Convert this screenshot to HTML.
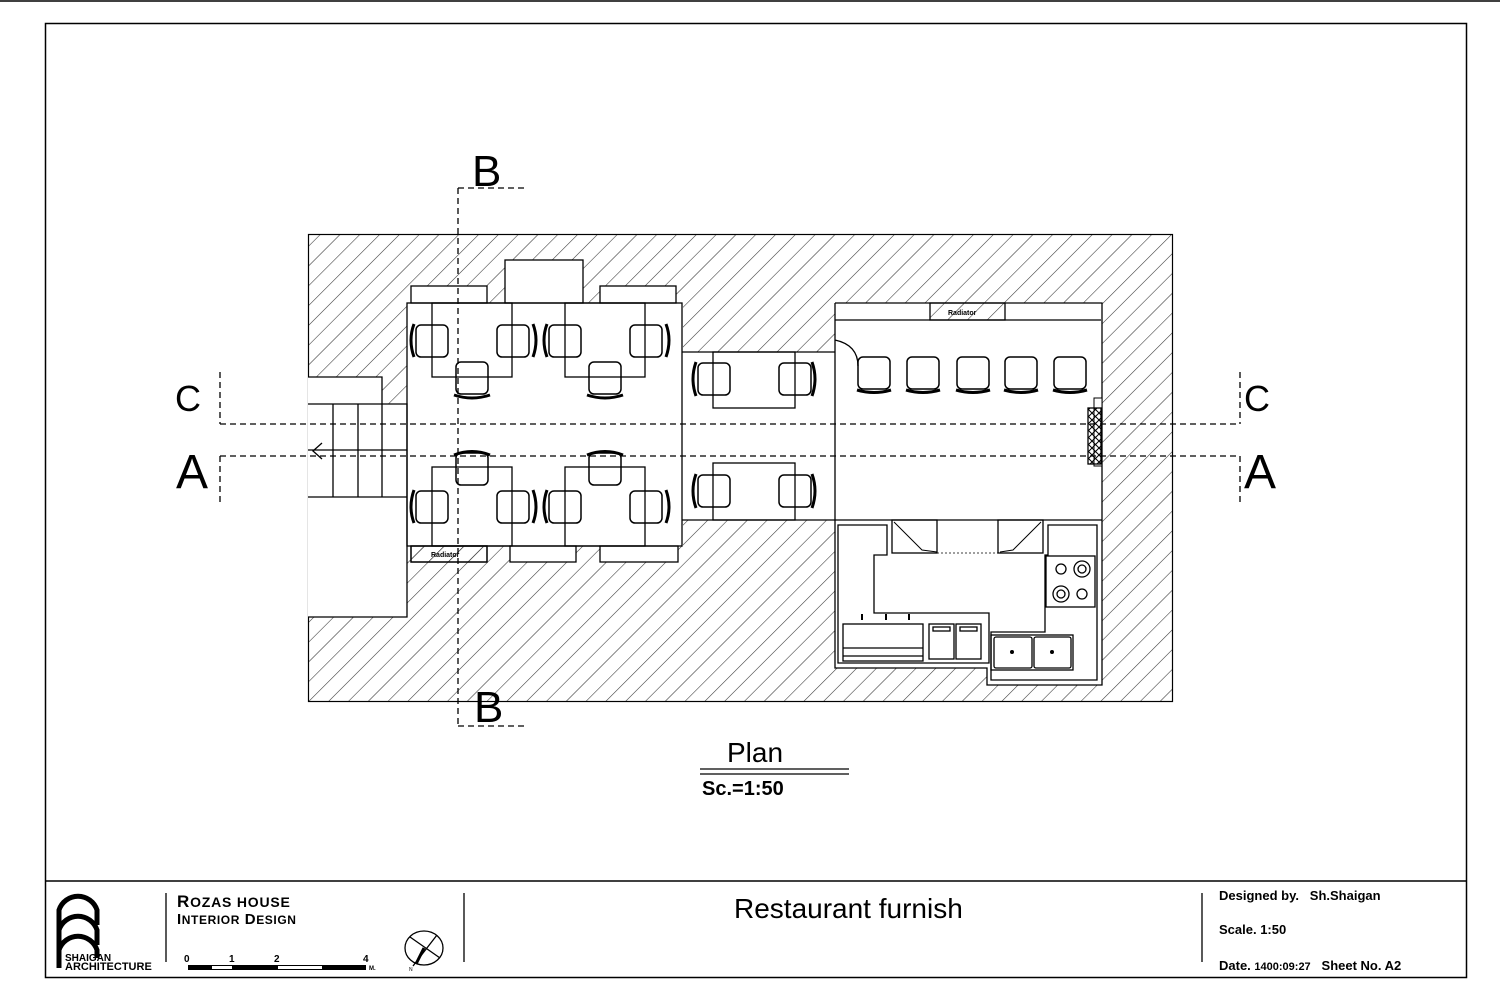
<!DOCTYPE html>
<html><head><meta charset="utf-8"><style>
html,body{margin:0;padding:0;background:#fff;}
svg{display:block;}
text{font-family:"Liberation Sans",sans-serif;fill:#000;}
</style></head><body>
<svg width="1500" height="1000" viewBox="0 0 1500 1000" xmlns="http://www.w3.org/2000/svg">
<defs>
<pattern id="h" width="14" height="14" patternUnits="userSpaceOnUse" patternTransform="rotate(45)">
<line x1="0" y1="0" x2="0" y2="14" stroke="#333" stroke-width="1.1"/>
</pattern>
<pattern id="x" width="7" height="7" patternUnits="userSpaceOnUse">
<path d="M0 0L7 7M7 0L0 7" stroke="#000" stroke-width="1"/>
</pattern>
<g id="chair"><rect x="0" y="0" width="32" height="32" rx="5" fill="none" stroke="#000" stroke-width="1.5"/></g>
</defs>
<rect width="1500" height="1000" fill="#fff"/>
<line x1="0" y1="1" x2="1500" y2="1" stroke="#000" stroke-width="1.5"/>
<rect x="45.5" y="23.5" width="1421" height="954" fill="none" stroke="#000" stroke-width="1.5"/>
<line x1="45" y1="881" x2="1466" y2="881" stroke="#000" stroke-width="1.5"/>

<!-- building -->
<rect x="308.5" y="234.5" width="864" height="467" fill="url(#h)" stroke="#000" stroke-width="1.2"/>
<g fill="#fff" stroke="none">
<rect x="407" y="303" width="276" height="243"/>
<rect x="682" y="352" width="154" height="168"/>
<rect x="835" y="303" width="267" height="365"/>
<rect x="987" y="660" width="115" height="25"/>
<rect x="308" y="377" width="74" height="240"/>
<rect x="382" y="404" width="25" height="213"/>
<rect x="505" y="260" width="78" height="43"/>
<rect x="411" y="286" width="76" height="17"/>
<rect x="600" y="286" width="76" height="17"/>
<rect x="510" y="546" width="66" height="16"/>
<rect x="600" y="546" width="78" height="16"/>
</g>
<g fill="none" stroke="#000" stroke-width="1.3">
<!-- stairs -->
<path d="M308 377H382V404M308 404H407V617H308M333 404V497M358 404V497M382 404V497M308 497H407M308 450H407"/>
<path d="M322 443L313 451L322 459"/>
<!-- dining -->
<rect x="407" y="303" width="275" height="243"/>
<path d="M682 352H835M682 520H835"/>
<rect x="505" y="260" width="78" height="43"/>
<rect x="411" y="286" width="76" height="17"/>
<rect x="600" y="286" width="76" height="17"/>
<rect x="411" y="546" width="76" height="16"/>
<rect x="510" y="546" width="66" height="16"/>
<rect x="600" y="546" width="78" height="16"/>
<rect x="432" y="303" width="80" height="74"/>
<rect x="565" y="303" width="80" height="74"/>
<rect x="432" y="467" width="80" height="79"/>
<rect x="565" y="467" width="80" height="79"/>
<rect x="713" y="352" width="82" height="56"/>
<rect x="713" y="463" width="82" height="57"/>
<!-- right room -->
<path d="M835 303H1102V685H987V668H835V303M835 320H1101M835 340Q858 345 858 366"/>
</g>
<rect x="930" y="303" width="75" height="17" fill="url(#h)" stroke="#000" stroke-width="1.3"/>
<rect x="411" y="546" width="76" height="16" fill="url(#h)" stroke="#000" stroke-width="1.3"/>
<text x="948" y="315" font-size="7" font-weight="bold">Radiator</text>
<text x="431" y="557" font-size="7" font-weight="bold">Radiator</text>
<rect x="1094" y="398" width="8" height="68" fill="#fff" stroke="#000" stroke-width="1"/>
<rect x="1088" y="408" width="13" height="56" fill="url(#x)" stroke="#000" stroke-width="1.3"/>

<!-- chairs -->
<g stroke="#000" stroke-width="3" fill="none">
<path d="M414 324Q408 340 414 357M533 324Q539 340 533 357M547 324Q541 340 547 357M666 324Q672 340 666 357"/>
<path d="M414 490Q408 507 414 523M533 490Q539 507 533 523M547 490Q541 507 547 523M666 490Q672 507 666 523"/>
<path d="M454 395Q472 401 490 395M587 395Q605 401 623 395M454 455Q472 448 490 455M587 455Q605 448 623 455"/>
<path d="M696 362Q690 379 696 396M812 362Q818 379 812 396M696 474Q690 491 696 508M812 474Q818 491 812 508"/>
<path d="M857 390Q874 395 891 390M906 390Q923 395 940 390M956 390Q973 395 990 390M1004 390Q1021 395 1038 390M1053 390Q1070 395 1087 390"/>
</g>
<g>
<use href="#chair" x="416" y="325"/><use href="#chair" x="497" y="325"/><use href="#chair" x="456" y="362"/>
<use href="#chair" x="549" y="325"/><use href="#chair" x="630" y="325"/><use href="#chair" x="589" y="362"/>
<use href="#chair" x="416" y="491"/><use href="#chair" x="497" y="491"/><use href="#chair" x="456" y="453"/>
<use href="#chair" x="549" y="491"/><use href="#chair" x="630" y="491"/><use href="#chair" x="589" y="453"/>
<use href="#chair" x="698" y="363"/><use href="#chair" x="779" y="363"/>
<use href="#chair" x="698" y="475"/><use href="#chair" x="779" y="475"/>
<use href="#chair" x="858" y="357"/><use href="#chair" x="907" y="357"/><use href="#chair" x="957" y="357"/><use href="#chair" x="1005" y="357"/><use href="#chair" x="1054" y="357"/>
</g>

<!-- kitchen -->
<g fill="none" stroke="#000" stroke-width="1.3">
<path d="M835 520H1102"/>
<path d="M838 525H887V555H874V613H989V663H838Z"/>
<path d="M1048 525H1097V680H991V632H1045V555H1048Z"/>
<rect x="892" y="520" width="45" height="33"/>
<rect x="998" y="520" width="45" height="33"/>
<path d="M894 522L898 526L902 530L906 534L910 538L914 542L918 546L922 550L937 552" stroke-width="1"/>
<path d="M1041 522L1037 526L1033 530L1029 534L1025 538L1021 542L1017 546L1013 550L1000 552" stroke-width="1"/>
<path d="M937 553H998M937 520H998" stroke-dasharray="2 2" stroke-width="0.8"/>
<rect x="1046" y="556" width="49" height="51"/>
<circle cx="1061" cy="569" r="5"/><circle cx="1082" cy="569" r="8"/><circle cx="1082" cy="569" r="4"/>
<circle cx="1061" cy="594" r="8"/><circle cx="1061" cy="594" r="4"/><circle cx="1082" cy="594" r="5"/>
<rect x="843" y="624" width="80" height="37"/>
<path d="M843 648H923M843 656H923"/>
<rect x="929" y="624" width="25" height="35"/><rect x="956" y="624" width="25" height="35"/>
<rect x="933" y="627" width="17" height="4"/><rect x="960" y="627" width="17" height="4"/>
<rect x="991" y="635" width="82" height="35"/>
<rect x="994" y="637" width="38" height="31" rx="2"/><rect x="1034" y="637" width="37" height="31" rx="2"/>
</g>
<circle cx="1012" cy="652" r="2" fill="#000"/><circle cx="1052" cy="652" r="2" fill="#000"/>
<g stroke="#000" stroke-width="2"><path d="M862 614V620M886 614V620M909 614V620"/></g>

<!-- section lines -->
<g stroke="#000" stroke-width="1.3" fill="none" stroke-dasharray="6 4">
<path d="M220 424H1240M220 456H1240"/>
<path d="M220 372V424M1240 372V424M220 456V505M1240 456V505"/>
<path d="M458 188V726M458 188H527M458 726H524"/>
</g>
<text x="472" y="186" font-size="44">B</text>
<text x="474" y="722" font-size="44">B</text>
<text x="175" y="411" font-size="36">C</text>
<text x="1244" y="411" font-size="36">C</text>
<text x="176" y="488" font-size="48">A</text>
<text x="1244" y="488" font-size="48">A</text>

<!-- plan label -->
<text x="727" y="762" font-size="28">Plan</text>
<path d="M700 769H849M700 774H849" stroke="#000" stroke-width="1.3"/>
<text x="702" y="795" font-size="20" font-weight="bold">Sc.=1:50</text>

<!-- title block -->
<g fill="none" stroke="#000" stroke-width="5">
<path d="M59 935V910A20 20 0 0 1 97 910V925"/>
<path d="M59 955V930A20 20 0 0 1 97 930V945"/>
<path d="M59 968V950A20 20 0 0 1 97 950V958"/>
</g>
<text x="65" y="961" font-size="10" font-weight="bold">SHAIGAN</text>
<text x="65" y="970" font-size="11" font-weight="bold">ARCHITECTURE</text>
<path d="M166 893V962M464 893V962M1202 893V962" stroke="#000" stroke-width="1.3"/>
<text x="177" y="907" font-size="17" font-weight="900" letter-spacing="0.8">R<tspan font-size="14">OZAS HOUSE</tspan></text>
<text x="177" y="924" font-size="15" font-weight="900" letter-spacing="0.6">I<tspan font-size="12">NTERIOR</tspan> D<tspan font-size="12">ESIGN</tspan></text>
<text x="184" y="962" font-size="10" font-weight="bold">0</text>
<text x="229" y="962" font-size="10" font-weight="bold">1</text>
<text x="274" y="962" font-size="10" font-weight="bold">2</text>
<text x="363" y="962" font-size="10" font-weight="bold">4</text>
<text x="369" y="970" font-size="6" font-weight="bold">M.</text>
<rect x="188" y="965" width="178" height="5" fill="#000"/>
<rect x="212" y="966" width="20" height="3" fill="#fff"/>
<rect x="278" y="966" width="44" height="3" fill="#fff"/>
<ellipse cx="424" cy="948" rx="19" ry="17" fill="none" stroke="#000" stroke-width="1.3"/>
<path d="M410 937L440 958M437 935L413 966" stroke="#000" stroke-width="1.3"/>
<path d="M424 948L416 964" stroke="#000" stroke-width="3"/>
<text x="409" y="971" font-size="5">N</text>
<text x="734" y="918" font-size="28">Restaurant furnish</text>
<text x="1219" y="900" font-size="13" font-weight="bold" xml:space="preserve">Designed by.   Sh.Shaigan</text>
<text x="1219" y="934" font-size="13" font-weight="bold">Scale. 1:50</text>
<text x="1219" y="970" font-size="13" font-weight="bold" xml:space="preserve">Date. <tspan font-size="11">1400:09:27</tspan>   Sheet No. A2</text>
</svg>
</body></html>
